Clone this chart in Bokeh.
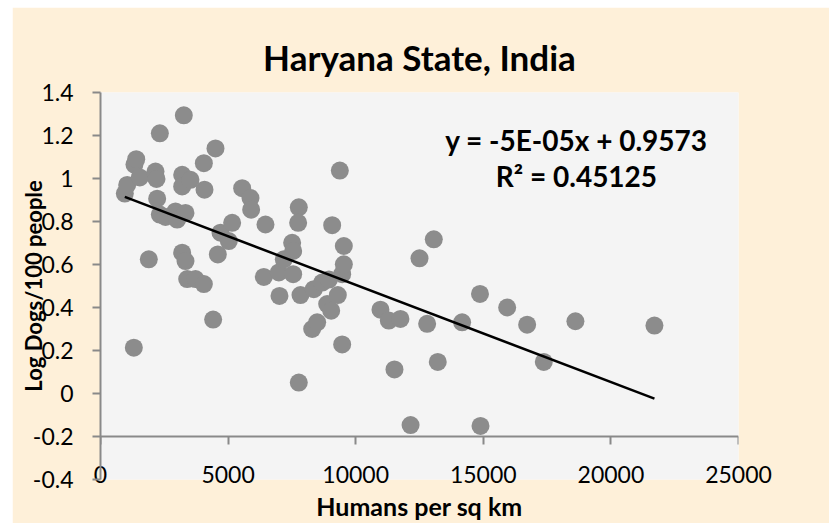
from bokeh.plotting import figure
from bokeh.models import Title, Label, FixedTicker, LinearAxis, Spacer
from bokeh.layouts import column, row
from bokeh.embed import file_html
from bokeh.resources import INLINE

# ---- data ----
humans_per_sqkm = [953, 1045, 1330, 1400, 1541, 1306, 1893, 2155, 2194, 2220,
                   2325, 2325, 2547, 2938, 3004, 3200, 3200, 3265, 3330, 3526,
                   3200, 3330, 3397, 3722, 4050, 4050, 4075, 4506, 4414, 4597,
                   4702, 5028, 5159, 5551, 5877, 5903, 6465, 6400, 6988, 7013,
                   7183, 7510, 7549, 7549, 7770, 7745, 7836, 7770, 8294, 8490,
                   8358, 8685, 8950, 8882, 9039, 9078, 9300, 9378, 9470, 9535,
                   9535, 9470, 10970, 11297, 11754, 11519, 12150, 12500, 12800, 13060,
                   13216, 14170, 14870, 14890, 15935, 16718, 17370, 18610, 21706]
log_dogs_per_100 = [0.93, 0.97, 1.065, 1.09, 1.005, 0.213, 0.624, 1.032, 0.998, 0.906,
                    1.21, 0.832, 0.821, 0.847, 0.809, 1.017, 0.963, 1.294, 0.84, 0.994,
                    0.655, 0.616, 0.532, 0.532, 0.509, 1.071, 0.948, 1.14, 0.344, 0.647,
                    0.748, 0.709, 0.794, 0.955, 0.909, 0.855, 0.786, 0.542, 0.563, 0.454,
                    0.624, 0.701, 0.663, 0.555, 0.866, 0.794, 0.458, 0.051, 0.30, 0.331,
                    0.485, 0.516, 0.53, 0.416, 0.385, 0.783, 0.458, 1.037, 0.555, 0.601,
                    0.686, 0.228, 0.39, 0.339, 0.347, 0.112, -0.147, 0.629, 0.324, 0.717,
                    0.147, 0.331, 0.463, -0.151, 0.40, 0.32, 0.147, 0.336, 0.316]

trend_slope = -4.52e-5
trend_intercept = 0.9573
equation_text = "y = -5E-05x + 0.9573"
r2_text = "R\u00b2 = 0.45125"

x_ticks = [0, 5000, 10000, 15000, 20000, 25000]
x_tick_labels = ["0", "5000", "10000", "15000", "20000", "25000"]
y_ticks = [-0.4, -0.2, 0, 0.2, 0.4, 0.6, 0.8, 1, 1.2, 1.4]
y_tick_labels = ["-0.4", "-0.2", "0", "0.2", "0.4", "0.6", "0.8", "1", "1.2", "1.4"]
x_axis_crossing = -0.2

title_text = "Haryana State, India"
x_label = "Humans per sq km"
y_label = "Log Dogs/100 people"

# ---- figure ----
FONT = "Lato"
CREAM = "#fef0d9"
AXIS = "#898989"

p = figure(width=817, height=516, output_backend="svg", toolbar_location=None,
           x_range=(0, 25000), y_range=(-0.4, 1.4), x_axis_location=None,
           min_border_left=88, min_border_right=91, min_border_top=85, min_border_bottom=41)
p.background_fill_color = "#f4f4f4"
p.border_fill_color = CREAM
p.outline_line_color = None
p.grid.visible = False

p.title = Title(text=title_text, align="center", text_font=FONT, text_font_size="35px",
                text_font_style="bold", text_color="black", standoff=30)

# x axis line + ticks crossing at y = -0.2 (labels drawn by a second axis)
xa = LinearAxis(fixed_location=x_axis_crossing, ticker=FixedTicker(ticks=x_ticks))
xa.major_label_text_font_size = "0px"
xa.major_label_text_alpha = 0
xa.minor_tick_line_color = None
xa.major_tick_in = 0
xa.major_tick_out = 8
xa.axis_line_color = AXIS
xa.axis_line_width = 2
xa.major_tick_line_color = AXIS
xa.major_tick_line_width = 2
p.add_layout(xa, "below")

# x tick labels, sitting just above the frame bottom
xl = LinearAxis(ticker=FixedTicker(ticks=x_ticks))
xl.major_label_overrides = dict(zip(x_ticks, x_tick_labels))
xl.axis_line_color = None
xl.major_tick_line_color = None
xl.minor_tick_line_color = None
xl.major_tick_in = 0
xl.major_tick_out = 0
xl.major_label_text_font = FONT
xl.major_label_text_font_size = "23px"
xl.major_label_text_color = "black"
xl.major_label_standoff = -14
p.add_layout(xl, "below")

ya = p.yaxis[0]
ya.ticker = FixedTicker(ticks=y_ticks)
ya.major_label_overrides = dict(zip(y_ticks, y_tick_labels))
ya.minor_tick_line_color = None
ya.major_tick_in = 0
ya.major_tick_out = 8
ya.axis_line_color = AXIS
ya.axis_line_width = 2
ya.major_tick_line_color = AXIS
ya.major_tick_line_width = 2
ya.major_label_text_font = FONT
ya.major_label_text_font_size = "23px"
ya.major_label_text_color = "black"
ya.major_label_standoff = 19
ya.axis_label = y_label
ya.axis_label_text_font = FONT
ya.axis_label_text_font_size = "22px"
ya.axis_label_text_font_style = "bold"
ya.axis_label_text_color = "black"
ya.axis_label_standoff = -17

p.add_layout(Title(text=x_label, align="center", text_font=FONT, text_font_size="25px",
                   text_font_style="bold", text_color="black", standoff=6), "below")

p.scatter(humans_per_sqkm, log_dogs_per_100, size=18, fill_color="#8c8c8c", line_color=None)

x0, x1 = min(humans_per_sqkm), max(humans_per_sqkm)
p.line([x0, x1], [trend_intercept + trend_slope * x0, trend_intercept + trend_slope * x1],
       line_color="black", line_width=2.5)

p.add_layout(Label(x=18650, y=1.18, text=equation_text, text_align="center",
                   text_baseline="alphabetic", text_font=FONT, text_font_size="28px",
                   text_font_style="bold", text_color="black"))
p.add_layout(Label(x=18650, y=1.012, text=r2_text, text_align="center",
                   text_baseline="alphabetic", text_font=FONT, text_font_size="28px",
                   text_font_style="bold", text_color="black"))

page = column(Spacer(height=7), row(Spacer(width=12), p))
open("out.html", "w").write(file_html(page, INLINE))
